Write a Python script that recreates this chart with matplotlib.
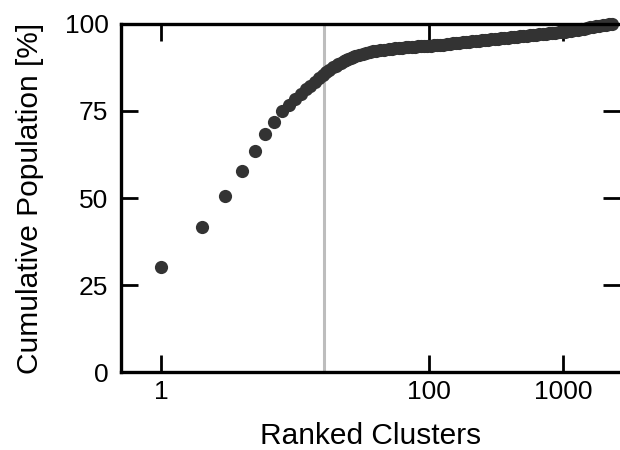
import matplotlib
matplotlib.use("Agg")
import matplotlib.pyplot as plt
from matplotlib.ticker import FixedLocator, FixedFormatter, NullLocator

plt.rcParams['font.family'] = ['Liberation Sans', 'DejaVu Sans']

# first, well separated clusters
ranks_head = [1, 2, 3, 4, 5, 6, 7, 8, 9, 10, 11]
cum_head = [30.2, 41.7, 50.5, 57.7, 63.6, 68.3, 71.7, 75.0, 76.8, 78.5, 80.0]

# dense tail
ranks_tail = [12, 13, 14, 15, 16, 17, 18, 19, 20, 21, 22, 23, 24, 25, 26, 27,
              28, 30, 32, 34, 36, 38, 40, 43, 46, 50, 53, 56, 60, 63, 67, 70,
              74, 78, 83, 87, 92, 97, 103, 108, 114, 120, 127, 135, 142, 150,
              159, 168, 178, 188, 199, 210, 222, 235, 248, 262, 277, 292, 309,
              326, 345, 364, 385, 406, 429, 453, 479, 506, 535, 565, 597, 630,
              666, 703, 743, 785, 829, 876, 925, 978, 1033, 1090, 1150, 1215,
              1283, 1355, 1430, 1510, 1595, 1680, 1775, 1870, 1975, 2080,
              2200, 2320]
cum_tail = [81.2, 82.3, 83.3, 84.4, 85.3, 86.1, 86.8, 87.5, 88.0, 88.5, 88.9,
            89.3, 89.7, 90.0, 90.3, 90.55, 90.8, 91.2, 91.5, 91.75, 92.0,
            92.15, 92.3, 92.45, 92.6, 92.8, 92.9, 93.0, 93.1, 93.2, 93.3,
            93.35, 93.45, 93.5, 93.55, 93.6, 93.65, 93.7, 93.8, 93.85, 93.95,
            94.0, 94.1, 94.2, 94.3, 94.4, 94.5, 94.6, 94.7, 94.8, 94.9, 95.0,
            95.1, 95.2, 95.3, 95.4, 95.5, 95.6, 95.7, 95.8, 95.9, 96.0, 96.1,
            96.15, 96.25, 96.35, 96.45, 96.55, 96.65, 96.75, 96.8, 96.9, 97.0,
            97.1, 97.2, 97.3, 97.4, 97.5, 97.6, 97.7, 97.8, 97.95, 98.1, 98.25,
            98.4, 98.55, 98.7, 98.85, 99.0, 99.15, 99.3, 99.45, 99.6, 99.75,
            99.9, 100.0]

cutoff_rank = 16.5
xticks = [1, 100, 1000]
xtick_labels = ['1', '100', '1000']
yticks = [0, 25, 50, 75, 100]

fig = plt.figure(figsize=(6.2, 4.5), dpi=100)
ax = fig.add_axes([0.195, 0.1733, 0.805, 0.7734])

ax.axvline(cutoff_rank, color='#bdbdbd', lw=2.2, zorder=1)
ax.plot(ranks_head + ranks_tail, cum_head + cum_tail, 'o', color='#333333',
        ms=9.5, mec='none', zorder=2, clip_on=False)

ax.set_xscale('log')
ax.set_xlim(0.5, 2660)
ax.set_ylim(0, 100)
ax.xaxis.set_major_locator(FixedLocator(xticks))
ax.xaxis.set_major_formatter(FixedFormatter(xtick_labels))
ax.xaxis.set_minor_locator(NullLocator())
ax.set_yticks(yticks)

for s in ['left', 'bottom', 'top']:
    ax.spines[s].set_linewidth(2.4)
ax.spines['right'].set_visible(False)

ax.tick_params(direction='in', length=12, width=2, labelsize=19, pad=6,
               top=True, right=True)
ax.tick_params(axis='y', pad=9)

ax.set_xlabel('Ranked Clusters', fontsize=21.5, labelpad=13)
ax.set_ylabel('Cumulative Population [%]', fontsize=21.5, labelpad=15)

fig.savefig('out.png', dpi=100)
